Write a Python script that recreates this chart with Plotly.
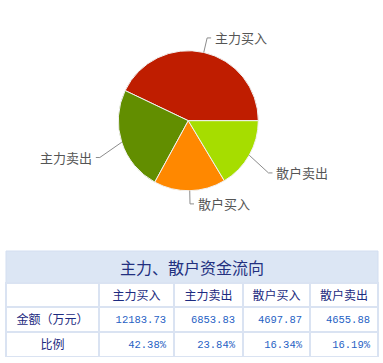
import math
import plotly.graph_objects as go

# ---- data ----
categories = ["主力买入", "主力卖出", "散户买入", "散户卖出"]
amounts = [12183.73, 6853.83, 4697.87, 4655.88]
ratio_labels = ["42.38%", "23.84%", "16.34%", "16.19%"]
amount_labels = ["12183.73", "6853.83", "4697.87", "4655.88"]
row_labels = ["金额（万元）", "比例"]
table_title = "主力、散户资金流向"
colors = ["#BF1D00", "#628E00", "#FF8800", "#A6DD00"]

W, H = 383, 363
CX, CY, R = 188.3, 120.7, 70.0


def px(x):
    return x / W


def py(y):
    return 1 - y / H


total = sum(amounts)
first_span = amounts[0] / total * 360.0

fig = go.Figure()

fig.add_trace(go.Pie(
    labels=categories,
    values=amounts,
    sort=False,
    direction="counterclockwise",
    rotation=90 - first_span,
    marker=dict(colors=colors, line=dict(color="#F2F2F2", width=1)),
    textinfo="none",
    hoverinfo="none",
    showlegend=False,
    domain=dict(x=[px(CX - R), px(CX + R)], y=[py(CY + R), py(CY - R)]),
))

# leader lines and labels computed from the data
start = 0.0
shapes = []
annotations = []
for name, v in zip(categories, amounts):
    span = v / total * 360.0
    mid = math.radians(start + span / 2)
    start += span
    c, s = math.cos(mid), -math.sin(mid)
    ax, ay = CX + R * c, CY + R * s
    d = 13 + 10.5 * abs(c)
    bx = CX + (R + d) * c
    by = CY + (R + d) * s + 9 * c * c
    side = 1 if c >= -0.05 else -1
    hx = bx + 4 * side
    shapes.append(dict(
        type="path",
        path=f"M {px(ax)} {py(ay)} L {px(bx)} {py(by)} L {px(hx)} {py(by)}",
        xref="paper", yref="paper",
        line=dict(color="#8C8C8C", width=1),
    ))
    annotations.append(dict(
        x=px(hx + 2 * side), y=py(by), xref="paper", yref="paper",
        text=name, showarrow=False,
        xanchor="left" if side > 0 else "right", yanchor="middle",
        font=dict(size=13, color="#555555", family="Noto Sans CJK SC"),
    ))

# title band of the table
shapes.append(dict(
    type="rect", xref="paper", yref="paper",
    x0=px(6), x1=px(378), y0=py(283), y1=py(251),
    fillcolor="#DCE6F4", line=dict(color="#D3DEF0", width=1), layer="below",
))
annotations.append(dict(
    x=px(192), y=py(267), xref="paper", yref="paper",
    text=table_title, showarrow=False, xanchor="center", yanchor="middle",
    font=dict(size=16, color="#23307F", family="Noto Sans CJK SC"),
))

header_vals = [""] + categories
col0 = row_labels
cols = [col0] + [[a, r] for a, r in zip(amount_labels, ratio_labels)]

fig.add_trace(go.Table(
    domain=dict(x=[px(6), px(378)], y=[py(357), py(283)]),
    columnwidth=[93, 75, 69, 67, 68],
    header=dict(
        values=header_vals,
        height=24,
        align="center",
        fill=dict(color="white"),
        line=dict(color="#DAE3F2", width=2),
        font=dict(size=12, color="#1C2A80", family="Noto Sans CJK SC"),
    ),
    cells=dict(
        values=cols,
        height=25,
        align=["center", "right", "right", "right", "right"],
        fill=dict(color="white"),
        line=dict(color="#DAE3F2", width=2),
        font=dict(
            size=[12, 10.5, 10.5, 10.5, 10.5],
            color=["#1C2A80", "#1F5FC4", "#1F5FC4", "#1F5FC4", "#1F5FC4"],
            family=["Noto Sans CJK SC", "Liberation Mono", "Liberation Mono",
                    "Liberation Mono", "Liberation Mono"],
        ),
    ),
))

fig.update_layout(
    width=W, height=H,
    margin=dict(l=0, r=0, t=0, b=0),
    paper_bgcolor="white",
    plot_bgcolor="white",
    shapes=shapes,
    annotations=annotations,
    showlegend=False,
)

fig.write_html("out.html")
